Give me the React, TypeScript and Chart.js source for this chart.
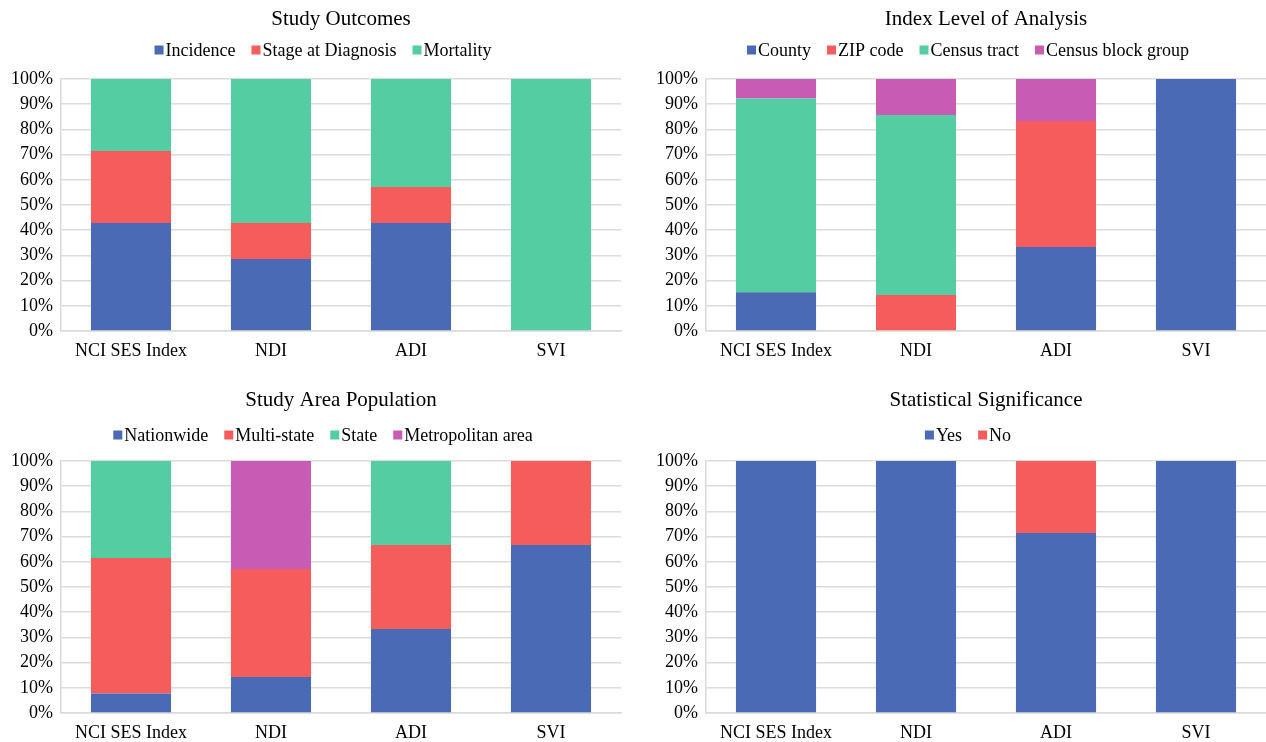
import React, { useEffect, useRef } from "react";
import { Chart, registerables } from "chart.js";

Chart.register(...registerables);

const FONT = "'Liberation Serif', 'Times New Roman', serif";

// Shared categories
const categories = ["NCI SES Index", "NDI", "ADI", "SVI"];

// Colors
const BLUE = "#4A6AB5";
const RED = "#F55D5D";
const GREEN = "#55CDA3";
const PURPLE = "#C85CB4";

// Study Outcomes
const outcomeLabels = ["Incidence", "Stage at Diagnosis", "Mortality"];
const outcomeIncidence = [42.86, 28.57, 42.86, 0];
const outcomeStage = [28.57, 14.29, 14.29, 0];
const outcomeMortality = [28.57, 57.14, 42.86, 100];

// Index Level of Analysis
const levelLabels = ["County", "ZIP code", "Census tract", "Census block group"];
const levelCounty = [15.38, 0, 33.33, 100];
const levelZip = [0, 14.29, 50.0, 0];
const levelTract = [76.92, 71.43, 0, 0];
const levelBlockGroup = [7.69, 14.29, 16.67, 0];

// Study Area Population
const areaLabels = ["Nationwide", "Multi-state", "State", "Metropolitan area"];
const areaNationwide = [7.69, 14.29, 33.33, 66.67];
const areaMultiState = [53.85, 42.86, 33.33, 33.33];
const areaState = [38.46, 0, 33.34, 0];
const areaMetro = [0, 42.86, 0, 0];

// Statistical Significance
const sigLabels = ["Yes", "No"];
const sigYes = [100, 100, 71.43, 100];
const sigNo = [0, 0, 28.57, 0];

// Y tick values
const yTickStep = 10;

const headerPlugin = {
  id: "headers",
  afterDraw(chart: any, _args: any, opts: any) {
    const { ctx, chartArea } = chart;
    const cx = (chartArea.left + chartArea.right) / 2;
    ctx.save();
    ctx.fillStyle = "#000";
    ctx.font = `21px ${FONT}`;
    ctx.textAlign = "center";
    ctx.textBaseline = "middle";
    ctx.fillText(opts.title, cx, opts.titleY);
    ctx.font = `18px ${FONT}`;
    const items = chart.data.datasets.map((d: any) => ({
      label: d.label,
      color: d.backgroundColor,
      w: ctx.measureText(d.label).width,
    }));
    const box = 9;
    const gap = 2;
    const sep = 16;
    const total =
      items.reduce((s: number, it: any) => s + box + gap + it.w, 0) + sep * (items.length - 1);
    let x = cx + opts.legendShift - total / 2;
    ctx.textAlign = "left";
    for (const it of items) {
      ctx.fillStyle = it.color;
      ctx.fillRect(x, opts.legendY - box / 2, box, box);
      ctx.fillStyle = "#000";
      ctx.fillText(it.label, x + box + gap, opts.legendY + 1);
      x += box + gap + it.w + sep;
    }
    ctx.restore();
  },
};

type Spec = {
  title: string;
  labels: string[];
  series: number[][];
  colors: string[];
  top: number;
  right: number;
  yw: number;
  xh: number;
  titleY: number;
  legendY: number;
};

function makeConfig(spec: Spec): any {
  return {
    type: "bar",
    data: {
      labels: categories,
      datasets: spec.series.map((data, i) => ({
        label: spec.labels[i],
        data,
        backgroundColor: spec.colors[i],
        borderWidth: 0,
        barPercentage: 0.572,
        categoryPercentage: 1,
      })),
    },
    options: {
      animation: false,
      responsive: false,
      maintainAspectRatio: false,
      layout: { padding: { top: spec.top, right: spec.right, left: 0, bottom: 0 } },
      plugins: {
        legend: { display: false },
        title: { display: false },
        tooltip: { enabled: false },
        headers: {
          title: spec.title,
          titleY: spec.titleY,
          legendY: spec.legendY,
          legendShift: -18,
        },
      },
      scales: {
        x: {
          stacked: true,
          grid: { display: false, drawTicks: false },
          border: { display: true, color: "#D9D9D9", width: 1.5 },
          ticks: {
            color: "#000",
            font: { family: FONT, size: 18 },
            padding: 9,
            maxRotation: 0,
            autoSkip: false,
          },
          afterFit: (s: any) => {
            s.height = spec.xh;
          },
        },
        y: {
          stacked: true,
          min: 0,
          max: 100,
          ticks: {
            stepSize: yTickStep,
            callback: (v: any) => v + "%",
            color: "#000",
            font: { family: FONT, size: 18 },
            padding: 8,
          },
          grid: { color: "#DCDCDC", lineWidth: 1.5, drawTicks: false },
          border: { display: true, color: "#D9D9D9", width: 1.5 },
          afterFit: (s: any) => {
            s.width = spec.yw;
          },
        },
      },
    },
    plugins: [headerPlugin],
  };
}

function ChartBox({ spec, left, top }: { spec: Spec; left: number; top: number }) {
  const ref = useRef<HTMLCanvasElement>(null);
  useEffect(() => {
    if (!ref.current) return;
    const chart = new Chart(ref.current, makeConfig(spec));
    return () => chart.destroy();
  }, []);
  return (
    <div style={{ position: "absolute", left, top, width: 633, height: 371 }}>
      <canvas ref={ref} width={633} height={371} style={{ width: 633, height: 371, display: "block" }} />
    </div>
  );
}

const specs: { spec: Spec; left: number; top: number }[] = [
  {
    left: 0,
    top: 0,
    spec: {
      title: "Study Outcomes",
      labels: outcomeLabels,
      series: [outcomeIncidence, outcomeStage, outcomeMortality],
      colors: [BLUE, RED, GREEN],
      top: 79,
      right: 12,
      yw: 61,
      xh: 40,
      titleY: 19,
      legendY: 50,
    },
  },
  {
    left: 633,
    top: 0,
    spec: {
      title: "Index Level of Analysis",
      labels: levelLabels,
      series: [levelCounty, levelZip, levelTract, levelBlockGroup],
      colors: [BLUE, RED, GREEN, PURPLE],
      top: 79,
      right: 0,
      yw: 73,
      xh: 40,
      titleY: 19,
      legendY: 50,
    },
  },
  {
    left: 0,
    top: 371,
    spec: {
      title: "Study Area Population",
      labels: areaLabels,
      series: [areaNationwide, areaMultiState, areaState, areaMetro],
      colors: [BLUE, RED, GREEN, PURPLE],
      top: 90,
      right: 12,
      yw: 61,
      xh: 29,
      titleY: 29,
      legendY: 64,
    },
  },
  {
    left: 633,
    top: 371,
    spec: {
      title: "Statistical Significance",
      labels: sigLabels,
      series: [sigYes, sigNo],
      colors: [BLUE, RED],
      top: 90,
      right: 0,
      yw: 73,
      xh: 29,
      titleY: 29,
      legendY: 64,
    },
  },
];

export default function App() {
  return (
    <div style={{ position: "absolute", left: 0, top: 0, width: 1266, height: 742, background: "#fff" }}>
      {specs.map((s, i) => (
        <ChartBox key={i} spec={s.spec} left={s.left} top={s.top} />
      ))}
    </div>
  );
}
